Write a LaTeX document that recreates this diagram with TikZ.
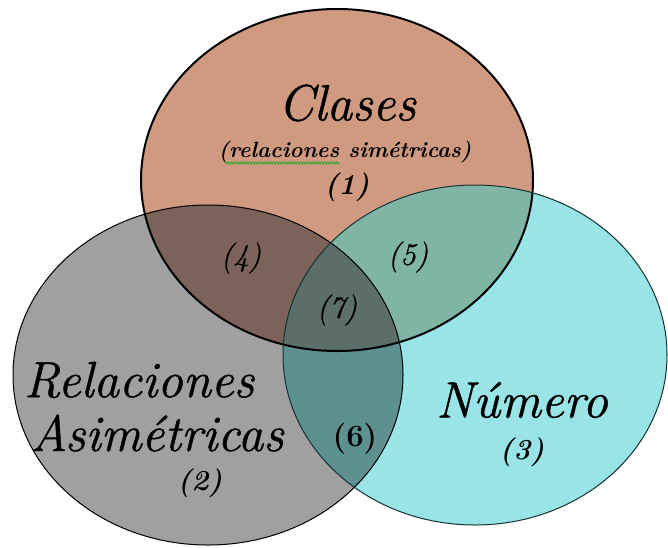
\documentclass[tikz,border=0pt]{standalone}
\usepackage{fontspec}
\newfontfamily\lmheavy{Latin Modern Roman}[FakeBold=0.9]
\usetikzlibrary{decorations.pathmorphing}
\definecolor{cbrown}{RGB}{208,154,128}
\definecolor{cgray}{RGB}{160,160,160}
\definecolor{ccyan}{RGB}{152,228,230}
\definecolor{cfour}{RGB}{125,98,89}
\definecolor{cfive}{RGB}{128,181,166}
\definecolor{csix}{RGB}{95,144,144}
\definecolor{cseven}{RGB}{92,110,105}
\definecolor{cedge}{RGB}{20,50,50}
\definecolor{squig}{RGB}{40,170,40}
\tikzset{
  bigtxt/.style={font=\lmheavy\fontsize{51}{51}\selectfont\itshape, inner sep=0pt},
  numit/.style={font=\lmheavy\fontsize{31}{31}\selectfont\itshape, inner sep=0pt},
  numbf/.style={font=\fontsize{29}{29}\selectfont\bfseries\itshape, inner sep=0pt},
  numup/.style={font=\fontsize{31}{31}\selectfont\bfseries, inner sep=0pt},
  subtxt/.style={font=\fontsize{22}{22}\selectfont\bfseries\itshape, inner sep=0pt},
}
\begin{document}
\begin{tikzpicture}[x=1pt,y=-1pt]
\useasboundingbox (0,0) rectangle (668,547);
% base fills
\fill[cgray] (208,375) ellipse [x radius=195pt, y radius=170pt];
\fill[cbrown] (337,180) ellipse [x radius=196pt, y radius=171pt];
\fill[ccyan] (475,355) ellipse [x radius=192pt, y radius=170pt];
% pairwise overlaps
\begin{scope}
  \clip (208,375) ellipse [x radius=195pt, y radius=170pt];
  \fill[cfour] (337,180) ellipse [x radius=196pt, y radius=171pt];
\end{scope}
\begin{scope}
  \clip (337,180) ellipse [x radius=196pt, y radius=171pt];
  \fill[cfive] (475,355) ellipse [x radius=192pt, y radius=170pt];
\end{scope}
\begin{scope}
  \clip (208,375) ellipse [x radius=195pt, y radius=170pt];
  \fill[csix] (475,355) ellipse [x radius=192pt, y radius=170pt];
\end{scope}
\begin{scope}
  \clip (208,375) ellipse [x radius=195pt, y radius=170pt];
  \clip (337,180) ellipse [x radius=196pt, y radius=171pt];
  \fill[cseven] (475,355) ellipse [x radius=192pt, y radius=170pt];
\end{scope}
% outlines
\draw[line width=1pt, black] (208,375) ellipse [x radius=195pt, y radius=170pt];
\draw[line width=2pt, black] (337,180) ellipse [x radius=196pt, y radius=171pt];
\draw[line width=1pt, cedge] (475,355) ellipse [x radius=192pt, y radius=170pt];
% labels
\node[bigtxt] (clases) at (347,103) {Clases};
\node[subtxt] (sim) at (345,152) {(relaciones simétricas)};
\coordinate (sqa) at (225,163);
\coordinate (sqb) at (340,163);
\draw[squig, line width=0.8pt, decorate, decoration={zigzag, amplitude=1.2pt, segment length=3pt}] (sqa) -- (sqb);
\node[numbf] (n1) at (347,187) {(1)};
\node[bigtxt] (rel) at (139,380) {Relaciones};
\node[bigtxt] (asim) at (157,433) {Asimétricas};
\node[numbf] (n2) at (200,483) {(2)};
\node[bigtxt] (num) at (522,400) {Número};
\node[numbf] (n3) at (522,452) {(3)};
\node[numit] (n4) at (241,258) {(4)};
\node[numit] (n5) at (408,257) {(5)};
\node[numup] (n6) at (355,439) {(6)};
\node[numit] (n7) at (337,310) {(7)};
\end{tikzpicture}
\end{document}
